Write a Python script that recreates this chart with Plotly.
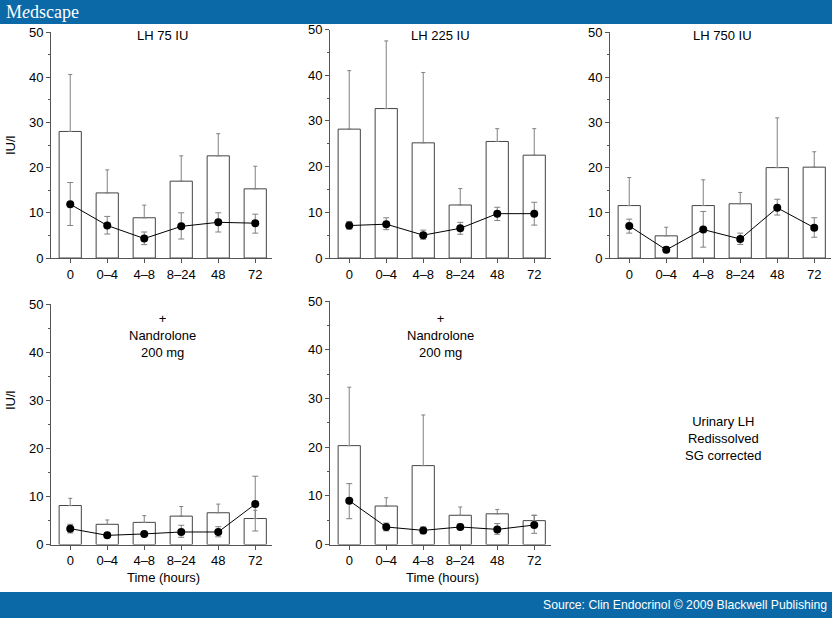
import plotly.graph_objects as go

W, H = 832, 618

time_labels = ["0", "0–4", "4–8", "8–24", "48", "72"]

# Panel 1: LH 75 IU
p1_bar = [28.0, 14.4, 8.9, 17.0, 22.6, 15.3]
p1_bar_top = [40.6, 19.5, 11.7, 22.6, 27.5, 20.3]
p1_pt = [11.9, 7.2, 4.3, 7.0, 7.9, 7.7]
p1_pt_hi = [16.7, 9.2, 5.75, 10.0, 10.0, 9.7]
p1_pt_lo = [7.2, 5.3, 2.95, 4.2, 5.75, 5.5]

# Panel 2: LH 225 IU
p2_bar = [28.2, 32.7, 25.2, 11.6, 25.5, 22.5]
p2_bar_top = [41.0, 47.5, 40.6, 15.2, 28.3, 28.3]
p2_pt = [7.1, 7.4, 5.0, 6.5, 9.7, 9.7]
p2_pt_hi = [8.0, 8.8, 6.1, 7.8, 11.1, 12.2]
p2_pt_lo = [6.3, 6.2, 4.1, 5.2, 8.2, 7.2]

# Panel 3: LH 750 IU
p3_bar = [11.6, 4.9, 11.6, 12.0, 20.0, 20.1]
p3_bar_top = [17.8, 6.8, 17.3, 14.5, 31.0, 23.5]
p3_pt = [7.1, 1.8, 6.3, 4.2, 11.1, 6.7]
p3_pt_hi = [8.6, 2.4, 10.3, 5.5, 13.0, 8.9]
p3_pt_lo = [5.5, 1.2, 2.4, 3.0, 9.5, 4.6]

# Panel 4: + Nandrolone 200 mg (left)
p4_bar = [8.1, 4.2, 4.6, 5.9, 6.6, 5.4]
p4_bar_top = [9.6, 5.1, 6.0, 7.9, 8.4, 7.1]
p4_pt = [3.3, 1.9, 2.2, 2.6, 2.6, 8.4]
p4_pt_hi = [4.2, 2.2, 2.5, 4.0, 3.7, 14.2]
p4_pt_lo = [2.4, 1.6, 1.9, 1.5, 1.6, 2.8]

# Panel 5: + Nandrolone 200 mg (right)
p5_bar = [20.3, 7.9, 16.2, 6.0, 6.3, 4.9]
p5_bar_top = [32.3, 9.6, 26.6, 7.7, 7.2, 6.0]
p5_pt = [9.0, 3.6, 2.9, 3.6, 3.1, 4.0]
p5_pt_hi = [12.5, 4.4, 3.6, 4.2, 4.3, 6.0]
p5_pt_lo = [5.3, 2.8, 2.2, 3.1, 2.1, 2.3]

y_ticks = [0, 10, 20, 30, 40, 50]

# layout geometry (pixels): (axis left x, y of zero, y of 50)
panels = [
    (p1_bar, p1_bar_top, p1_pt, p1_pt_hi, p1_pt_lo, 51, 258, 32),
    (p2_bar, p2_bar_top, p2_pt, p2_pt_hi, p2_pt_lo, 330, 258, 29.5),
    (p3_bar, p3_bar_top, p3_pt, p3_pt_hi, p3_pt_lo, 610, 258, 32),
    (p4_bar, p4_bar_top, p4_pt, p4_pt_hi, p4_pt_lo, 51, 544.5, 304),
    (p5_bar, p5_bar_top, p5_pt, p5_pt_hi, p5_pt_lo, 330, 544.5, 301),
]
PX_PER_CAT = 37.0
XR = [-0.52, 5.45]

FONT = "Liberation Sans, Arial, sans-serif"
AX_COL = "#555555"
ERR_COL = "#808080"

fig = go.Figure()
layout_axes = {}

for i, (bar, bar_top, pt, hi, lo, xl, y0, y50) in enumerate(panels):
    n = i + 1
    xa = "x" if n == 1 else f"x{n}"
    ya = "y" if n == 1 else f"y{n}"
    xw = (XR[1] - XR[0]) * PX_PER_CAT
    xdom = [xl / W, min(1.0, (xl + xw) / W)]
    ydom = [1 - y0 / H, 1 - y50 / H]

    fig.add_trace(go.Bar(
        x=time_labels, y=bar, xaxis=xa, yaxis=ya, width=0.6,
        marker=dict(color="white", line=dict(color="#444444", width=1)),
        error_y=dict(type="data", symmetric=False,
                     array=[t - b for t, b in zip(bar_top, bar)],
                     arrayminus=[0] * len(bar),
                     color=ERR_COL, thickness=1, width=2),
        showlegend=False, hoverinfo="skip",
    ))
    fig.add_trace(go.Scatter(
        x=time_labels, y=pt, xaxis=xa, yaxis=ya, mode="lines+markers",
        line=dict(color="black", width=1),
        marker=dict(color="black", size=8),
        error_y=dict(type="data", symmetric=False,
                     array=[h - p for h, p in zip(hi, pt)],
                     arrayminus=[p - l for p, l in zip(pt, lo)],
                     color=ERR_COL, thickness=1, width=3),
        showlegend=False, hoverinfo="skip",
    ))

    layout_axes["xaxis" if n == 1 else f"xaxis{n}"] = dict(
        domain=xdom, anchor=ya, type="category", range=XR, automargin=False,
        categoryorder="array", categoryarray=time_labels,
        showline=True, linecolor=AX_COL, linewidth=1,
        ticks="outside", ticklen=4, tickcolor=AX_COL, tickwidth=1,
        showgrid=False, zeroline=False, fixedrange=True,
        tickfont=dict(family=FONT, size=13, color="black"),
    )
    layout_axes["yaxis" if n == 1 else f"yaxis{n}"] = dict(
        domain=ydom, anchor=xa, range=[0, 50], automargin=False,
        tickvals=y_ticks, ticktext=[str(v) for v in y_ticks],
        showline=True, linecolor=AX_COL, linewidth=1,
        ticks="outside", ticklen=4, tickcolor=AX_COL, tickwidth=1,
        minor=dict(ticks="outside", ticklen=2, tickcolor=AX_COL, dtick=5, showgrid=False),
        showgrid=False, zeroline=False, fixedrange=True,
        tickfont=dict(family=FONT, size=13, color="black"),
    )

fig.update_layout(**layout_axes)

BLUE = "#0b69a7"
shapes = [
    dict(type="rect", xref="paper", yref="paper", x0=0, x1=1, y0=1 - 24 / H, y1=1,
         fillcolor=BLUE, line=dict(width=0), layer="below"),
    dict(type="rect", xref="paper", yref="paper", x0=0, x1=1, y0=0, y1=1 - 592 / H,
         fillcolor=BLUE, line=dict(width=0), layer="below"),
]


def ann(text, px, py, size=13, color="black", family=FONT, xanchor="center", angle=0):
    return dict(text=text, x=px / W, y=1 - py / H, xref="paper", yref="paper",
                showarrow=False, xanchor=xanchor, yanchor="middle", textangle=angle,
                font=dict(family=family, size=size, color=color))


annotations = [
    ann("M<i>e</i>dscape", 4, 12, size=18, color="white",
        family="Liberation Serif, Times New Roman, serif", xanchor="left"),
    ann("Source: Clin Endocrinol © 2009 Blackwell Publishing", 829, 605, size=12.2,
        color="white", xanchor="right"),
    ann("LH 75 IU", 162, 35),
    ann("LH 225 IU", 441, 35),
    ann("LH 750 IU", 722, 35),
    ann("+<br>Nandrolone<br>200 mg", 162, 335),
    ann("+<br>Nandrolone<br>200 mg", 441, 335),
    ann("Urinary LH<br>Redissolved<br>SG corrected", 723, 438),
    ann("IU/l", 10, 145, angle=-90),
    ann("IU/l", 10, 400, angle=-90),
    ann("Time (hours)", 163, 577),
    ann("Time (hours)", 442, 577),
]

fig.update_layout(
    width=W, height=H, margin=dict(l=0, r=0, t=0, b=0, autoexpand=False),
    paper_bgcolor="white", plot_bgcolor="white",
    shapes=shapes, annotations=annotations, barmode="overlay",
    font=dict(family=FONT, size=13, color="black"),
)

fig.write_html("out.html", config={"displayModeBar": False})

with open("out.html", "r", encoding="utf-8") as f:
    html = f.read()
html = html.replace(
    "<head>",
    "<head><style>html,body{margin:0;padding:0;overflow:hidden;}</style>",
    1,
)
with open("out.html", "w", encoding="utf-8") as f:
    f.write(html)
